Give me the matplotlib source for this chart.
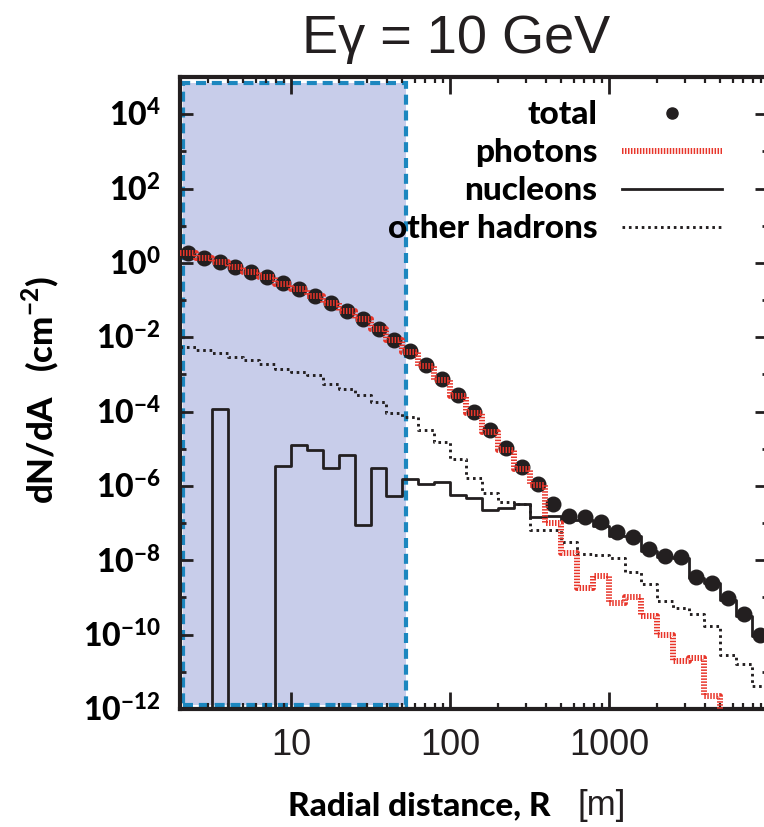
import numpy as np
import matplotlib
matplotlib.use('Agg')
import matplotlib.pyplot as plt
from matplotlib.lines import Line2D
from matplotlib.patches import Rectangle
from matplotlib.ticker import FixedLocator, LogLocator, NullFormatter, FuncFormatter

plt.rcParams['mathtext.fontset'] = 'custom'
plt.rcParams['mathtext.bf'] = 'Lato:black'
plt.rcParams['mathtext.rm'] = 'Lato:black'

# radial bins, 0.1 decade wide, 2 m .. 10 km
r_edges = np.logspace(0.3, 4.0, 38)
r_mid = np.sqrt(r_edges[:-1] * r_edges[1:])

# dN/dA per bin (cm^-2)
total = [1.82, 1.38, 1.05, 0.78, 0.575, 0.417, 0.282, 0.200, 0.132, 8.3e-2,
         5.2e-2, 3.1e-2, 1.66e-2, 8.5e-3, 4.2e-3, 1.82e-3, 7.6e-4, 2.8e-4,
         1.0e-4, 3.2e-5, 1.05e-5, 3.3e-6, 1.15e-6, 3.3e-7, 1.6e-7, 1.45e-7,
         1.07e-7, 5.8e-8, 4.2e-8, 2.0e-8, 1.32e-8, 1.2e-8, 3.5e-9, 2.45e-9,
         9.8e-10, 3.5e-10, 9.5e-11]
photons = [1.80, 1.36, 1.03, 0.77, 0.565, 0.41, 0.278, 0.197, 0.130, 8.2e-2,
           5.1e-2, 3.05e-2, 1.63e-2, 8.3e-3, 4.0e-3, 1.72e-3, 7.1e-4, 2.6e-4,
           9.0e-5, 2.8e-5, 9.0e-6, 2.8e-6, 1.07e-6, 1.0e-7, 1.6e-8, 1.8e-9,
           3.7e-9, 7.1e-10, 1.0e-9, 3.1e-10, 1.0e-10, 1.9e-11, 2.3e-11, 2.2e-12,
           0, 0, 0]
nucleons = [0, 0, 1.2e-4, 0, 0, 0, 3.5e-6, 1.25e-5, 9.0e-6, 3.0e-6, 6.9e-6,
            9.1e-8, 3.0e-6, 5.2e-7, 1.5e-6, 1.12e-6, 1.3e-6, 5.8e-7, 4.6e-7,
            2.2e-7, 2.6e-7, 3.3e-7, 1.5e-7, 1.6e-7, 1.23e-7, 1.23e-7, 8.5e-8,
            4.6e-8, 4.6e-8, 1.8e-8, 1.26e-8, 1.17e-8, 3.3e-9, 2.4e-9, 8.7e-10,
            3.1e-10, 9.1e-11]
other_hadrons = [5.4e-3, 4.6e-3, 3.7e-3, 3.0e-3, 2.45e-3, 1.95e-3, 1.38e-3,
                 1.17e-3, 9.5e-4, 5.5e-4, 4.0e-4, 2.75e-4, 1.8e-4, 9.3e-5,
                 7.1e-5, 3.2e-5, 1.5e-5, 5.4e-6, 1.66e-6, 6.5e-7, 3.7e-7,
                 3.3e-7, 6.6e-8, 6.6e-8, 3.2e-8, 1.5e-8, 1.4e-8, 1.12e-8,
                 4.8e-9, 2.3e-9, 7.9e-10, 5.2e-10, 3.5e-10, 1.7e-10, 2.8e-11,
                 1.6e-11, 4.1e-12]
x_ticks = [10, 100, 1000]

# shaded detector region
core_box = (2.1, 53.0, 1.3e-12, 7e4)

DARK = '#231f20'
RED = '#e8352a'
HEAVY = {'family': ['Lato', 'DejaVu Sans'], 'weight': 'black'}
DOTTED = (0, (0.9, 1.3))


def hist_line(values):
    x = np.repeat(r_edges, 2)[1:-1]
    y = np.repeat(values, 2)
    return x, y


fig = plt.figure(figsize=(7.64, 8.27), dpi=100)
ax = fig.add_axes([180 / 764, 118 / 827, 588 / 764, 632 / 827])
ax.set_xscale('log')
ax.set_yscale('log', nonpositive='clip')
ax.set_xlim(2, 1e4)
ax.set_ylim(1e-12, 1e5)

x0, x1, y0, y1 = core_box
ax.add_patch(Rectangle((x0, y0), x1 - x0, y1 - y0, facecolor='#c8cdea',
                       edgecolor='#1c87bf', lw=3, ls=(0, (2.4, 1.4)), zorder=0.5))

ax.plot(*hist_line(nucleons), color=DARK, lw=2, zorder=3)
ax.plot(*hist_line(other_hadrons), color=DARK, lw=2.1, ls=DOTTED, zorder=3)
ax.plot(r_mid, total, 'o', ms=10.5, color=DARK, zorder=4)
ax.plot(*hist_line(photons), color=RED, lw=4.3, ls=(0, (0.25, 0.25)), zorder=5)

# axes styling
for sp in ax.spines.values():
    sp.set_linewidth(3)
    sp.set_color(DARK)

ax.xaxis.set_major_locator(FixedLocator(x_ticks))
ax.xaxis.set_major_formatter(FuncFormatter(lambda v, p: '%d' % round(v)))
ax.xaxis.set_minor_locator(LogLocator(base=10, subs=np.arange(2, 10), numticks=20))
ax.xaxis.set_minor_formatter(NullFormatter())
ax.yaxis.set_major_locator(FixedLocator([10.0 ** e for e in range(-12, 5, 2)]))
ax.yaxis.set_minor_locator(FixedLocator([10.0 ** e for e in range(-11, 5, 2)]))
ax.yaxis.set_minor_formatter(NullFormatter())
ax.yaxis.set_major_formatter(FuncFormatter(
    lambda v, p: r'$\mathbf{10^{%d}}$' % round(np.log10(v))))

ax.tick_params(which='both', direction='in', top=True, right=True, color=DARK)
ax.tick_params(axis='x', which='major', length=12, width=2, pad=14,
               labelsize=26, labelcolor=DARK)
ax.tick_params(axis='x', which='minor', length=4, width=1.6)
ax.tick_params(axis='y', which='major', length=9.5, width=2, pad=14,
               labelsize=23, labelcolor='black')
ax.tick_params(axis='y', which='minor', length=4, width=2)
for lab in ax.get_xticklabels():
    lab.set_family('Liberation Sans')

handles = [
    Line2D([], [], marker='o', ls='none', ms=8, color=DARK),
    Line2D([], [], color=RED, lw=4.3, ls=(0, (0.25, 0.25))),
    Line2D([], [], color=DARK, lw=2),
    Line2D([], [], color=DARK, lw=2.1, ls=DOTTED),
]
ax.legend(handles, ['total', 'photons', 'nucleons', 'other hadrons'],
          loc='upper right', bbox_to_anchor=(0.922, 0.963), frameon=False,
          markerfirst=False, prop=dict(HEAVY, size=24),
          handlelength=3.0, handletextpad=0.75, labelspacing=0.27,
          borderpad=0, borderaxespad=0)

fig.text(456 / 764, 1 - 53 / 827, 'Eγ = 10 GeV', ha='center', va='baseline',
         fontsize=39, family='Liberation Sans', color=DARK)
fig.text(551 / 764, 1 - 815 / 827, 'Radial distance, R', ha='right', va='baseline',
         fontsize=24, **HEAVY)
fig.text(577 / 764, 1 - 815 / 827, '[m]', ha='left', va='baseline',
         family='Liberation Sans', fontsize=25, color=DARK)
fig.text(40 / 764, (827 - 390) / 827, r'dN/dA   (cm$^{\mathbf{-2}}$)', rotation=90,
         ha='center', va='center', fontsize=25, **HEAVY)

fig.savefig('out.png', dpi=100)
